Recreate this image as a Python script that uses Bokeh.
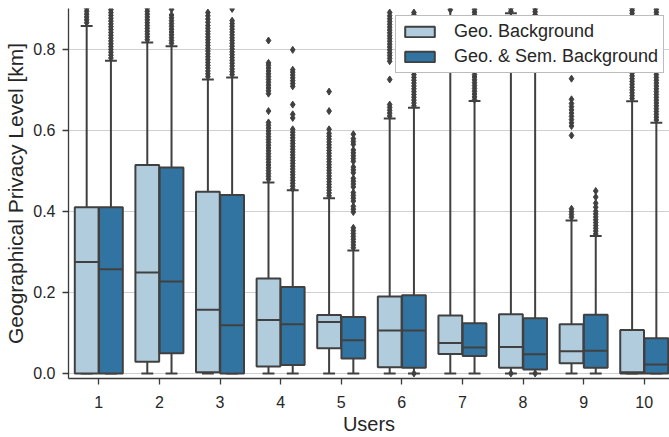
from bokeh.plotting import figure
from bokeh.models import Legend, LegendItem, FixedTicker, PrintfTickFormatter, Range1d, ColumnDataSource
from bokeh.embed import file_html
from bokeh.resources import INLINE

users = ["1", "2", "3", "4", "5", "6", "7", "8", "9", "10"]
series_names = ["Geo. Background", "Geo. & Sem. Background"]

# Geo. Background (light)
geo_low = [0.0, 0.0, 0.0, 0.0, 0.0, 0.0, 0.0, 0.0, 0.0, 0.0]
geo_q1 = [0.0, 0.029, 0.003, 0.017, 0.062, 0.015, 0.048, 0.014, 0.025, 0.0]
geo_med = [0.275, 0.249, 0.157, 0.132, 0.127, 0.106, 0.075, 0.065, 0.055, 0.003]
geo_q3 = [0.41, 0.514, 0.448, 0.234, 0.144, 0.190, 0.143, 0.146, 0.121, 0.107]
geo_high = [0.857, 0.816, 0.725, 0.471, 0.432, 0.629, 0.95, 0.888, 0.377, 0.671]
geo_outliers = [
    [0.865, 0.872, 0.879, 0.886, 0.893, 0.9],
    [0.823, 0.83, 0.837, 0.844, 0.851, 0.858, 0.865, 0.872, 0.879, 0.886, 0.893, 0.9],
    [0.732, 0.739, 0.746, 0.753, 0.76, 0.767, 0.774, 0.781, 0.788, 0.795, 0.802, 0.809,
     0.816, 0.823, 0.83, 0.837, 0.844, 0.851, 0.858, 0.866, 0.874, 0.882, 0.89],
    [0.479, 0.486, 0.493, 0.5, 0.507, 0.514, 0.521, 0.528, 0.535, 0.542, 0.549, 0.556,
     0.563, 0.57, 0.577, 0.584, 0.591, 0.598, 0.605, 0.612, 0.619, 0.647, 0.69, 0.697,
     0.704, 0.711, 0.718, 0.725, 0.732, 0.739, 0.746, 0.753, 0.76, 0.766, 0.821],
    [0.438, 0.445, 0.452, 0.459, 0.466, 0.473, 0.48, 0.487, 0.494, 0.501, 0.508, 0.515,
     0.522, 0.529, 0.536, 0.543, 0.55, 0.557, 0.564, 0.571, 0.578, 0.585, 0.592, 0.602,
     0.647, 0.695],
    [0.635, 0.642, 0.649, 0.656, 0.663, 0.725, 0.77, 0.777, 0.784, 0.791, 0.798, 0.805,
     0.812, 0.819, 0.826, 0.833, 0.84, 0.847, 0.854, 0.861, 0.868, 0.875, 0.882, 0.89],
    [0.897],
    [0.0, 0.893, 0.9],
    [0.385, 0.392, 0.399, 0.406, 0.587, 0.61, 0.618, 0.626, 0.634, 0.642, 0.65, 0.658,
     0.666, 0.676, 0.727],
    [0.678, 0.685, 0.692, 0.699, 0.706, 0.713, 0.72, 0.727, 0.734, 0.741, 0.748, 0.755,
     0.762, 0.769, 0.776, 0.783, 0.79, 0.797, 0.804, 0.811, 0.818, 0.825, 0.832, 0.839,
     0.846, 0.853, 0.86, 0.867, 0.874, 0.881, 0.888, 0.895, 0.9],
]

# Geo. & Sem. Background (dark)
sem_low = [0.0, 0.0, 0.0, 0.0, 0.0, 0.0, 0.0, 0.0, 0.0, 0.0]
sem_q1 = [0.0, 0.05, 0.0, 0.021, 0.037, 0.014, 0.043, 0.01, 0.014, 0.0]
sem_med = [0.257, 0.227, 0.119, 0.121, 0.082, 0.106, 0.064, 0.047, 0.056, 0.022]
sem_q3 = [0.41, 0.508, 0.44, 0.213, 0.139, 0.193, 0.124, 0.136, 0.145, 0.087]
sem_high = [0.771, 0.807, 0.73, 0.452, 0.303, 0.655, 0.672, 0.95, 0.339, 0.618]
sem_outliers = [
    [0.778, 0.785, 0.792, 0.799, 0.806, 0.813, 0.82, 0.827, 0.834, 0.841, 0.848, 0.855,
     0.862, 0.869, 0.876, 0.883, 0.89, 0.897],
    [0.814, 0.821, 0.828, 0.835, 0.842, 0.849, 0.856, 0.863, 0.87, 0.877, 0.884, 0.898],
    [0.737, 0.744, 0.751, 0.758, 0.765, 0.772, 0.779, 0.786, 0.793, 0.8, 0.807, 0.814,
     0.821, 0.828, 0.835, 0.842, 0.849, 0.856, 0.863, 0.87, 0.899],
    [0.455, 0.462, 0.469, 0.476, 0.483, 0.49, 0.497, 0.504, 0.511, 0.518, 0.525, 0.532,
     0.539, 0.546, 0.553, 0.56, 0.567, 0.574, 0.581, 0.588, 0.595, 0.602, 0.63, 0.639,
     0.663, 0.708, 0.715, 0.722, 0.729, 0.736, 0.743, 0.749, 0.798],
    [0.31, 0.317, 0.324, 0.331, 0.338, 0.345, 0.352, 0.359, 0.398, 0.405, 0.412, 0.425,
     0.432, 0.439, 0.446, 0.46, 0.467, 0.474, 0.481, 0.495, 0.502, 0.509, 0.523, 0.53,
     0.537, 0.544, 0.551, 0.565, 0.572, 0.579, 0.59],
    [0.0, 0.66, 0.667, 0.674, 0.681, 0.688, 0.695, 0.702, 0.709, 0.716, 0.723, 0.73,
     0.737, 0.744, 0.751, 0.758, 0.765, 0.772, 0.779, 0.786, 0.793, 0.8, 0.807, 0.814,
     0.821, 0.828, 0.835, 0.842, 0.849, 0.856, 0.863, 0.87, 0.877, 0.884, 0.89],
    [0.675, 0.682, 0.689, 0.696, 0.703, 0.71, 0.717, 0.724, 0.731, 0.737, 0.87, 0.877,
     0.884, 0.891, 0.898],
    [0.0, 0.885, 0.892, 0.899],
    [0.344, 0.351, 0.358, 0.365, 0.372, 0.379, 0.386, 0.393, 0.40, 0.41, 0.42, 0.435,
     0.45],
    [0.625, 0.632, 0.639, 0.646, 0.653, 0.66, 0.667, 0.674, 0.681, 0.688, 0.695, 0.702,
     0.709, 0.716, 0.723, 0.73, 0.737, 0.744, 0.751, 0.758, 0.765, 0.772, 0.779, 0.786,
     0.793, 0.8, 0.807, 0.814, 0.821, 0.828, 0.835, 0.842, 0.849, 0.856, 0.863, 0.87,
     0.877, 0.884, 0.891, 0.898],
]

colors = ["#b0ccdd", "#3274a1"]
line_col = "#404040"
text_col = "#262626"
FONT = "Liberation Sans"

BOX_W = 0.392
OFFS = [-0.2, 0.2]

p = figure(width=669, height=437, output_backend="svg", toolbar_location=None,
           x_range=Range1d(-0.5, 9.417), y_range=Range1d(-0.0125, 0.9),
           min_border_left=68, min_border_right=0, min_border_top=8, min_border_bottom=57)
p.outline_line_color = None
p.background_fill_color = "white"
p.border_fill_color = "white"

p.xgrid.grid_line_color = None
p.ygrid.grid_line_color = "#d0d0d0"
p.ygrid.grid_line_width = 1
p.ygrid.ticker = FixedTicker(ticks=[0.0, 0.2, 0.4, 0.6, 0.8])

legend_items = []
all_series = [
    (geo_low, geo_q1, geo_med, geo_q3, geo_high, geo_outliers),
    (sem_low, sem_q1, sem_med, sem_q3, sem_high, sem_outliers),
]
for s, (lo, q1, med, q3, hi, outs) in enumerate(all_series):
    xs = [i + OFFS[s] for i in range(len(users))]
    src = ColumnDataSource(dict(
        x=xs, lo=lo, q1=q1, med=med, q3=q3, hi=hi,
        xl=[x - BOX_W / 2 for x in xs], xr=[x + BOX_W / 2 for x in xs],
        cl=[x - BOX_W / 4 for x in xs], cr=[x + BOX_W / 4 for x in xs],
    ))
    p.segment(x0="x", y0="lo", x1="x", y1="q1", source=src, line_color=line_col, line_width=2)
    p.segment(x0="x", y0="q3", x1="x", y1="hi", source=src, line_color=line_col, line_width=2)
    p.segment(x0="cl", y0="lo", x1="cr", y1="lo", source=src, line_color=line_col, line_width=2)
    p.segment(x0="cl", y0="hi", x1="cr", y1="hi", source=src, line_color=line_col, line_width=2)
    r = p.vbar(x="x", width=BOX_W, bottom="q1", top="q3", source=src,
               fill_color=colors[s], line_color=line_col, line_width=2)
    p.segment(x0="xl", y0="med", x1="xr", y1="med", source=src, line_color=line_col, line_width=2)
    ox, oy = [], []
    for i, vals in enumerate(outs):
        for v in vals:
            ox.append(xs[i])
            oy.append(v)
    p.scatter(ox, oy, marker="diamond", size=7, fill_color=line_col, line_color=line_col)
    legend_items.append(LegendItem(label=series_names[s], renderers=[r]))

legend = Legend(items=legend_items, location=(327, 305))
legend.label_text_font = FONT
legend.label_text_font_size = "18px"
legend.label_text_color = text_col
legend.glyph_width = 37
legend.glyph_height = 13
legend.label_standoff = 16
legend.padding = 5
legend.spacing = 4
legend.border_line_color = "#7a7a7a"
legend.border_line_width = 1
legend.background_fill_color = "white"
legend.background_fill_alpha = 1.0
p.add_layout(legend, "center")

# axes
p.xaxis.ticker = FixedTicker(ticks=list(range(len(users))))
p.xaxis.major_label_overrides = {i: u for i, u in enumerate(users)}
p.yaxis.ticker = FixedTicker(ticks=[0.0, 0.2, 0.4, 0.6, 0.8])
p.yaxis.formatter = PrintfTickFormatter(format="%.1f")
p.xaxis.axis_label = "Users"
p.yaxis.axis_label = "Geographical Privacy Level [km]"
for ax in (p.xaxis[0], p.yaxis[0]):
    ax.axis_line_color = "#3a3a3a"
    ax.axis_line_width = 1.3
    ax.major_tick_line_color = "#3a3a3a"
    ax.major_tick_line_width = 1.3
    ax.major_tick_out = 6
    ax.major_tick_in = 0
    ax.minor_tick_line_color = None
    ax.major_label_text_font = FONT
    ax.major_label_text_font_size = "16px"
    ax.major_label_text_color = text_col
    ax.axis_label_text_font = FONT
    ax.axis_label_text_font_size = "20px"
    ax.axis_label_text_font_style = "normal"
    ax.axis_label_text_color = text_col
p.yaxis.axis_label_text_font_size = "21px"
p.yaxis.major_label_standoff = 7
p.yaxis.axis_label_standoff = 3
p.xaxis.major_label_standoff = 11
p.xaxis.axis_label_standoff = 2

open("out.html", "w").write(file_html(p, INLINE))
